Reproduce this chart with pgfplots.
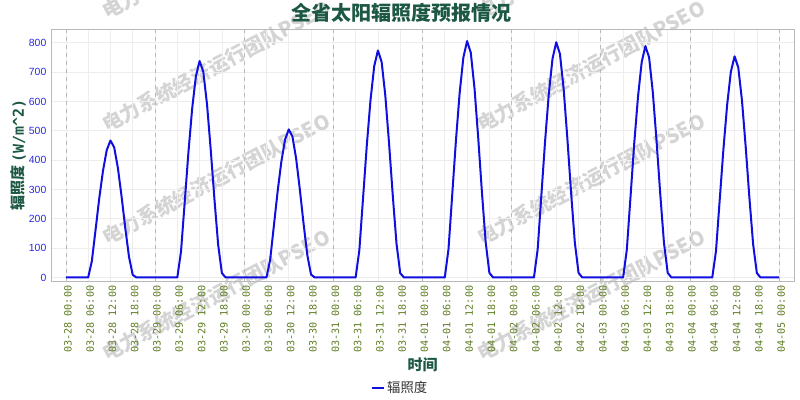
\documentclass[border=0pt]{standalone}
\usepackage{fontspec}
\usepackage{pgfplots}
\pgfplotsset{compat=1.18}
\setmainfont{Liberation Sans}
\newfontfamily\cjk{Noto Sans CJK SC}
\newfontfamily\monofnt{DejaVu Sans Mono}
\definecolor{titlegreen}{RGB}{28,88,68}
\definecolor{tickblue}{RGB}{40,40,225}
\definecolor{tickolive}{RGB}{95,125,35}
\definecolor{lineblue}{RGB}{15,15,225}
\definecolor{wm}{RGB}{212,212,212}
\begin{document}
\begin{tikzpicture}
\useasboundingbox (0,0) rectangle (600pt,300pt);
\fill[white] (0,0) rectangle (600pt,300pt);
% watermarks
\foreach \xx in {108,483}{
  \foreach \yy in {22,135,248,364}{
    \node[rotate=28, anchor=south west, inner sep=0pt, text=wm,
      font=\cjk\bfseries\fontsize{15pt}{15pt}\selectfont]
      at ({\xx*0.75pt},{(400-\yy)*0.75pt}) {电力系统经济运行团队PSEO};
  }
}
\begin{axis}[
  at={(38.25pt,89.25pt)}, anchor=south west,
  width=557.25pt, height=188.75pt, scale only axis,
  xmin=-4, xmax=196, ymin=-12, ymax=846,
  axis line style={draw=gray!55},
  major tick length=0pt,
  xtick={0,6,...,192},
  xticklabels={03-28 00:00,03-28 06:00,03-28 12:00,03-28 18:00,
    03-29 00:00,03-29 06:00,03-29 12:00,03-29 18:00,
    03-30 00:00,03-30 06:00,03-30 12:00,03-30 18:00,
    03-31 00:00,03-31 06:00,03-31 12:00,03-31 18:00,
    04-01 00:00,04-01 06:00,04-01 12:00,04-01 18:00,
    04-02 00:00,04-02 06:00,04-02 12:00,04-02 18:00,
    04-03 00:00,04-03 06:00,04-03 12:00,04-03 18:00,
    04-04 00:00,04-04 06:00,04-04 12:00,04-04 18:00,
    04-05 00:00},
  xticklabel style={rotate=90, anchor=east, text=tickolive, yshift=-1.5pt,
    font=\monofnt\fontsize{7.6pt}{8pt}\selectfont},
  ytick={0,100,...,800},
  yticklabel style={text=tickblue, font=\fontsize{7.8pt}{8pt}\selectfont},
  /pgf/number format/assume math mode=true,
  grid=major,
  major grid style={draw=gray!14, line width=0.5pt},
  extra x ticks={0,24,...,192},
  extra x tick labels={},
  extra x tick style={major grid style={draw=gray!55, dashed, line width=0.5pt}},
  title={全省太阳辐照度预报情况},
  title style={at={(axis description cs:0.472,1.065)}, anchor=center, yshift=-6pt,
    text=titlegreen, font=\cjk\bfseries\fontsize{15pt}{15pt}\selectfont},
  xlabel={时间},
  xlabel style={at={(axis description cs:0.5,-0.334)}, anchor=center,
    text=titlegreen, font=\cjk\bfseries\fontsize{11.25pt}{12pt}\selectfont},
  ylabel={辐照度 {\monofnt\bfseries(W/m\^{}2)}},
  ylabel style={at={(axis description cs:-0.044,0.5)}, anchor=center,
    text=titlegreen, font=\cjk\bfseries\fontsize{11.25pt}{12pt}\selectfont},
  legend style={draw=none, fill=none, at={(axis description cs:0.47,-0.425)},
    anchor=center, font=\cjk\fontsize{10pt}{11pt}\selectfont, text=black!80},
  legend image code/.code={\draw[#1] (0pt,0pt) -- (9pt,0pt);},
]
\addplot[lineblue, line width=1.5pt, line join=round] coordinates {
(0,0) (6,0) (7,56) (8,163) (9,271) (10,364) (11,434) (12,467) (13,444) (14,374) (15,276) (16,168) (17,70) (18,9) (19,0)
(30,0) (31,89) (32,258) (33,428) (34,576) (35,686) (36,738) (37,701) (38,590) (39,435) (40,266) (41,111) (42,15) (43,0)
(54,0) (55,61) (56,177) (57,293) (58,394) (59,470) (60,505) (61,480) (62,404) (63,298) (64,182) (65,76) (66,10) (67,0)
(78,0) (79,93) (80,271) (81,449) (82,604) (83,720) (84,774) (85,735) (86,619) (87,457) (88,279) (89,116) (90,15) (91,0)
(102,0) (103,97) (104,282) (105,467) (106,629) (107,750) (108,806) (109,766) (110,645) (111,476) (112,290) (113,121) (114,16) (115,0)
(126,0) (127,96) (128,281) (129,465) (130,626) (131,746) (132,802) (133,762) (134,642) (135,473) (136,289) (137,120) (138,16) (139,0)
(150,0) (151,95) (152,276) (153,458) (154,615) (155,734) (156,789) (157,750) (158,631) (159,466) (160,284) (161,118) (162,16) (163,0)
(174,0) (175,90) (176,264) (177,437) (178,588) (179,701) (180,754) (181,716) (182,603) (183,445) (184,271) (185,113) (186,15) (187,0)
(192,0)
};
\addlegendentry{辐照度}
\end{axis}
\end{tikzpicture}
\end{document}
